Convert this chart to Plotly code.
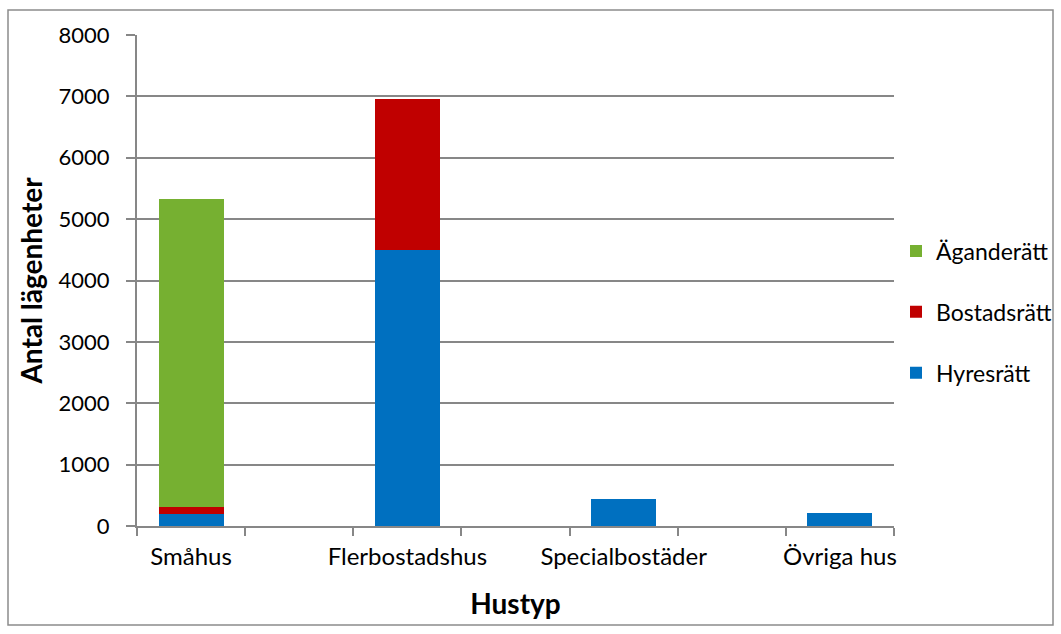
import plotly.graph_objects as go

categories = ["Småhus", "Flerbostadshus", "Specialbostäder", "Övriga hus"]
# axis slots: the original chart keeps an empty category between each house type
axis_slots = ["Småhus", " ", "Flerbostadshus", "  ", "Specialbostäder", "   ", "Övriga hus"]
hyresratt = [200, 4500, 435, 215]
bostadsratt = [115, 2460, 0, 0]
aganderatt = [5010, 0, 0, 0]
y_ticks = [0, 1000, 2000, 3000, 4000, 5000, 6000, 7000, 8000]

FONT = "Lato"
GREY = "#878787"
fig = go.Figure()
series = [("Hyresrätt", hyresratt, "#0070C0", 3),
          ("Bostadsrätt", bostadsratt, "#C00000", 2),
          ("Äganderätt", aganderatt, "#76B031", 1)]
for name, vals, col, rank in series:
    fig.add_trace(go.Bar(x=categories, y=vals, name=name, marker_color=col,
                         marker_line_width=0, legendgroup=name, legendrank=rank))

L, R, T, B = 137, 894, 35, 526
W, H = R - L, B - T
fig.update_layout(
    barmode="stack", bargap=0.40,
    width=1061, height=634,
    margin=dict(l=L, r=1061 - R, t=T, b=634 - B, autoexpand=False),
    paper_bgcolor="white", plot_bgcolor="white",
    font=dict(family=FONT, size=22, color="black"),
    legend=dict(traceorder="grouped", tracegroupgap=28,
                x=(896 - L) / W, xanchor="left", y=(B - 312) / H, yanchor="middle",
                font=dict(size=23), itemwidth=30, bgcolor="rgba(0,0,0,0)"),
    showlegend=True,
)
fig.update_xaxes(type="category", categoryorder="array", categoryarray=axis_slots,
                 range=[-0.5, 6.5], automargin=False, tickangle=0,
                 showline=True, linecolor=GREY, linewidth=2,
                 ticks="outside", tickson="boundaries", ticklen=8,
                 tickcolor=GREY, tickwidth=2, tickfont=dict(size=24),
                 ticklabelstandoff=8,
                 title=dict(text="<b>Hustyp</b>", font=dict(size=28), standoff=26))
fig.update_yaxes(range=[0, 8000], tickvals=y_ticks, automargin=False,
                 showline=True, linecolor=GREY, linewidth=2,
                 ticks="outside", ticklen=9, tickcolor=GREY, tickwidth=2,
                 ticklabelstandoff=12,
                 showgrid=True, gridcolor=GREY, gridwidth=1.6, zeroline=False,
                 title=dict(text="<b>Antal lägenheter</b>", font=dict(size=28), standoff=8))
fig.add_shape(type="rect", xref="paper", yref="paper",
              x0=(8 - L) / W, x1=(1053 - L) / W, y0=-(625 - B) / H, y1=(B - 10) / H,
              line=dict(color="#8C8C8C", width=1.5), fillcolor="rgba(0,0,0,0)", layer="below")
fig.write_html("out.html", config={"displayModeBar": False},
               post_script="document.body.style.margin='0';")
